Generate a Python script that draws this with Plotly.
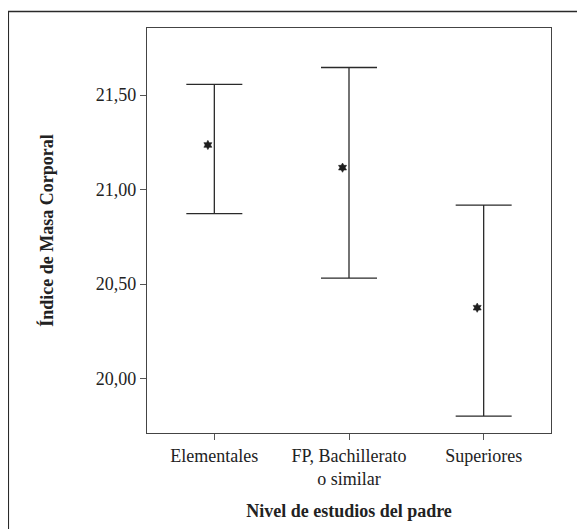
import plotly.graph_objects as go

# ---- data ----
categories = ["Elementales", "FP, Bachillerato<br>o similar", "Superiores"]
means = [21.236, 21.116, 20.375]
ci_upper = [21.557, 21.646, 20.918]
ci_lower = [20.873, 20.532, 19.801]

y_tickvals = [20.0, 20.5, 21.0, 21.5]
y_ticktext = ["20,00", "20,50", "21,00", "21,50"]

x_title = "Nivel de estudios del padre"
y_title = "Índice de Masa Corporal"

err_plus = [u - m for u, m in zip(ci_upper, means)]
err_minus = [m - l for m, l in zip(means, ci_lower)]

FONT = "Liberation Serif, Times New Roman, serif"
INK = "#222222"
FRAME = "#444444"

fig = go.Figure()

# error bars (interval lines with caps)
fig.add_trace(go.Scatter(
    x=categories, y=means, mode="markers",
    marker=dict(size=1, color="rgba(0,0,0,0)"),
    error_y=dict(type="data", symmetric=False, array=err_plus, arrayminus=err_minus,
                 color="#2a2a2a", thickness=1.3, width=28),
    xaxis="x", yaxis="y", showlegend=False, hoverinfo="skip",
))

# mean markers (drawn slightly left of the interval line, as in the original)
fig.add_trace(go.Scatter(
    x=categories, y=means, mode="markers",
    marker=dict(symbol="hexagram", size=7, color="#1e1e1e",
                line=dict(width=0.6, color="#1e1e1e")),
    xaxis="x2", yaxis="y", showlegend=False,
))

fig.update_layout(
    width=577, height=521,
    paper_bgcolor="white", plot_bgcolor="white",
    margin=dict(l=139, r=34, t=20, b=96, autoexpand=False),
    font=dict(family=FONT, size=18, color=INK),
    xaxis=dict(
        type="category", categoryorder="array", categoryarray=categories,
        range=[-0.5, 2.5],
        showgrid=False, zeroline=False,
        showline=True, linecolor=FRAME, linewidth=1.4, mirror=True,
        ticks="outside", ticklen=6, tickwidth=1, tickcolor="#555555",
        tickfont=dict(family=FONT, size=18, color=INK),
        title=dict(text="<b>" + x_title + "</b>", standoff=16,
                   font=dict(family=FONT, size=18, color=INK)),
    ),
    xaxis2=dict(
        type="category", categoryorder="array", categoryarray=categories,
        overlaying="x", range=[-0.452, 2.548],
        visible=False, showgrid=False, zeroline=False,
    ),
    yaxis=dict(
        range=[19.712, 21.855],
        tickvals=y_tickvals, ticktext=y_ticktext,
        showgrid=False, zeroline=False,
        showline=True, linecolor=FRAME, linewidth=1.4, mirror=True,
        ticks="outside", ticklen=6, tickwidth=1, tickcolor="#555555",
        tickfont=dict(family=FONT, size=18, color=INK),
        title=dict(text="<b>" + y_title + "</b>", standoff=37,
                   font=dict(family=FONT, size=18, color=INK)),
    ),
    shapes=[
        # outer figure frame (left and top edges visible)
        dict(type="path", xref="paper", yref="paper",
             path="M -0.3433,-0.3 L -0.3433,1.0405 L 1.2,1.0405",
             line=dict(color="#2a2a2a", width=1.5)),
    ],
)

fig.write_html("out.html")
